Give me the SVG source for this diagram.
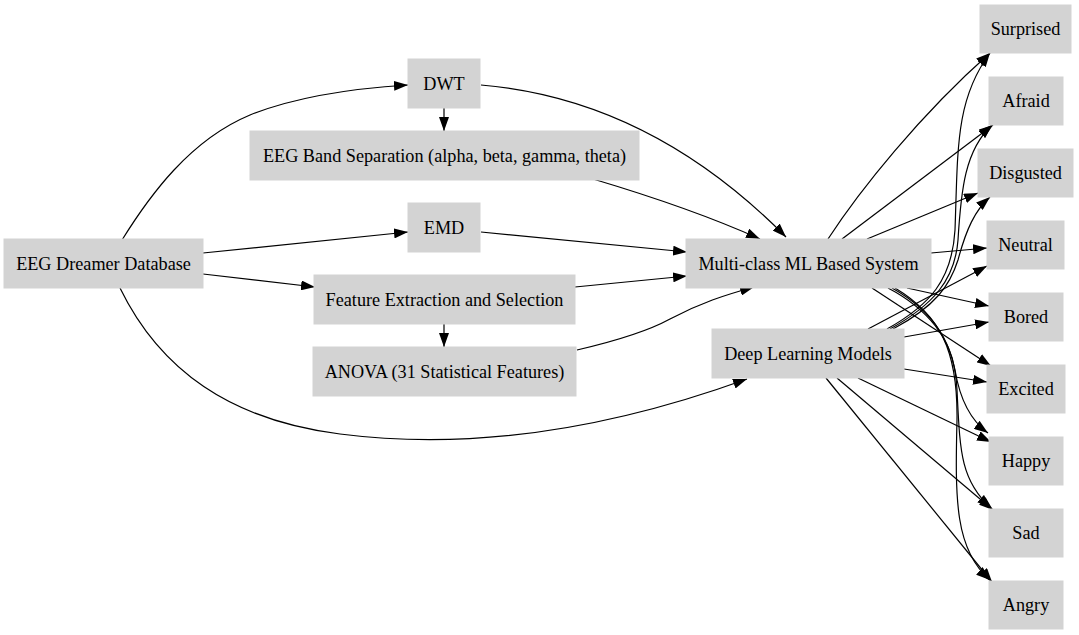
<svg xmlns="http://www.w3.org/2000/svg" width="1079" height="635" viewBox="0 0 1079 635">
<style>
.n rect{fill:#d3d3d3;stroke:#d3d3d3;stroke-width:1}
.n text{font-family:"Liberation Serif","Times New Roman",serif;font-size:18.2px;fill:#000;text-anchor:middle}
#edges path{fill:none;stroke:#000;stroke-width:1.2;marker-end:url(#ah)}
</style>
<defs>
<marker id="ah" markerUnits="userSpaceOnUse" markerWidth="14" markerHeight="10" viewBox="0 0 14 10" refX="14" refY="5" orient="auto">
<path d="M0,0 L14,5 L0,10 z" fill="#000"/>
</marker>
</defs>
<rect width="1079" height="635" fill="#fff"/>
<g id="edges">
<path d="M122,240 C150,195 190,140 250,115 C300,95 360,88 408,85"/>
<path d="M203,253 L408,232"/>
<path d="M203,274 L315,287"/>
<path d="M120,288 C160,370 230,420 340,434 C480,452 620,425 747,379"/>
<path d="M444,108 L444,131"/>
<path d="M481,85 C600,95 700,150 786,237"/>
<path d="M593,179 C640,193 700,212 760,239"/>
<path d="M481,232 L687,252"/>
<path d="M575,287 L687,276"/>
<path d="M444,324 L444,347"/>
<path d="M577,350 C620,340 650,330 670,319 C700,303 725,295 754,287"/>
<path d="M828,239 C860,190 920,115 990,53"/>
<path d="M842,239 L993,125"/>
<path d="M867,239 L978,193"/>
<path d="M931,253 L987,248"/>
<path d="M907,288 L989,306"/>
<path d="M872,288 L991,366"/>
<path d="M888,288 C930,310 950,340 955,370 C960,400 970,420 988,433"/>
<path d="M892,288 C935,312 955,345 957,390 C960,450 960,480 991,508"/>
<path d="M895,288 C940,315 958,350 957,420 C955,500 955,550 990,580"/>
<path d="M887,329 C930,305 952,280 955,230 C958,150 955,100 990,53"/>
<path d="M890,329 C933,305 955,280 958,240 C961,190 965,150 992,125"/>
<path d="M893,329 C936,306 950,285 958,260 C966,230 975,210 990,197"/>
<path d="M868,329 L987,266"/>
<path d="M904,337 L989,322"/>
<path d="M904,369 L987,382"/>
<path d="M858,378 L991,442"/>
<path d="M837,378 L993,510"/>
<path d="M826,378 L992,582"/>
</g>
<g id="eeg" class="n"><rect x="4" y="239" width="199" height="49"/><text x="103.5" y="269.5">EEG Dreamer Database</text></g>
<g id="dwt" class="n"><rect x="408" y="59" width="72" height="49"/><text x="444" y="89.5">DWT</text></g>
<g id="band" class="n"><rect x="250" y="131" width="389" height="49"/><text x="444.5" y="161.5">EEG Band Separation (alpha, beta, gamma, theta)</text></g>
<g id="emd" class="n"><rect x="408" y="203" width="72" height="49"/><text x="444" y="233.5">EMD</text></g>
<g id="feat" class="n"><rect x="314" y="275" width="261" height="49"/><text x="444.5" y="305.5">Feature Extraction and Selection</text></g>
<g id="anova" class="n"><rect x="313" y="347" width="263" height="49"/><text x="444.5" y="377.5">ANOVA (31 Statistical Features)</text></g>
<g id="multi" class="n"><rect x="686" y="239" width="245" height="49"/><text x="808.5" y="269.5">Multi-class ML Based System</text></g>
<g id="deep" class="n"><rect x="712" y="329" width="192" height="49"/><text x="808" y="359.5">Deep Learning Models</text></g>
<g id="surprised" class="n"><rect x="980" y="5" width="91" height="48"/><text x="1025.5" y="35">Surprised</text></g>
<g id="afraid" class="n"><rect x="989" y="77" width="74" height="48"/><text x="1026" y="107">Afraid</text></g>
<g id="disgusted" class="n"><rect x="978" y="149" width="95" height="48"/><text x="1025.5" y="179">Disgusted</text></g>
<g id="neutral" class="n"><rect x="987" y="221" width="77" height="48"/><text x="1025.5" y="251">Neutral</text></g>
<g id="bored" class="n"><rect x="989" y="293" width="74" height="48"/><text x="1026" y="323">Bored</text></g>
<g id="excited" class="n"><rect x="987" y="365" width="78" height="48"/><text x="1026" y="395">Excited</text></g>
<g id="happy" class="n"><rect x="989" y="437" width="74" height="48"/><text x="1026" y="467">Happy</text></g>
<g id="sad" class="n"><rect x="989" y="509" width="74" height="48"/><text x="1026" y="539">Sad</text></g>
<g id="angry" class="n"><rect x="989" y="581" width="74" height="48"/><text x="1026" y="611">Angry</text></g>
</svg>
